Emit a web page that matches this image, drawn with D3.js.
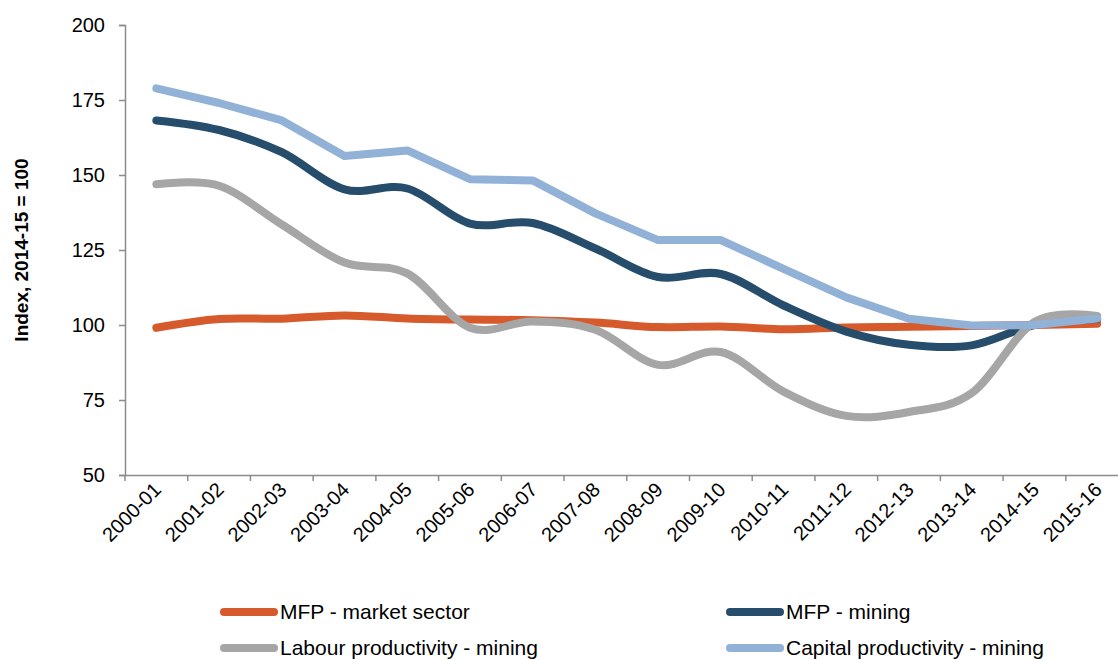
<!DOCTYPE html>
<html>
<head>
<meta charset="utf-8">
<script src="https://cdn.jsdelivr.net/npm/d3@7"></script>
<style>
  body { margin: 0; background: #fff; }
  svg { display: block; font-family: Arial, "Liberation Sans", sans-serif; }
</style>
</head>
<body>
<div class="chart"></div>
<script>
// chart data
const years = ['2000-01', '2001-02', '2002-03', '2003-04', '2004-05', '2005-06', '2006-07', '2007-08',
  '2008-09', '2009-10', '2010-11', '2011-12', '2012-13', '2013-14', '2014-15', '2015-16'];
const mfpMarket = [99.1, 102.0, 102.1, 103.2, 102.2, 101.8, 101.6, 100.8, 99.3, 99.5, 98.6, 99.2, 99.4, 99.7, 100.0, 100.4];
const mfpMining = [168.2, 165.0, 157.6, 145.2, 145.5, 133.8, 134.0, 125.5, 116.0, 117.0, 106.5, 97.8, 93.4, 93.2, 100.0, 102.0];
const labourMining = [146.9, 146.4, 133.5, 120.8, 117.2, 99.1, 101.2, 98.4, 86.7, 91.0, 77.8, 69.7, 71.0, 77.3, 101.0, 103.0];
const capitalMining = [178.9, 174.0, 168.2, 156.3, 158.2, 148.6, 148.2, 137.2, 128.3, 128.3, 118.7, 109.2, 102.1, 99.8, 100.0, 102.2];
const yTicks = [50, 75, 100, 125, 150, 175, 200];

const series = [
  { name: 'MFP - market sector', values: mfpMarket, color: '#d65a2b', smooth: true },
  { name: 'MFP - mining', values: mfpMining, color: '#264d6b', smooth: true },
  { name: 'Labour productivity - mining', values: labourMining, color: '#a6a6a6', smooth: true },
  { name: 'Capital productivity - mining', values: capitalMining, color: '#92b1d7', smooth: false }
];

const W = 1118, H = 660;
const svg = d3.select('.chart').append('svg')
  .attr('width', W)
  .attr('height', H);

const left = 125, bandW = 62.72;
const x = d3.scaleBand()
  .domain(years)
  .range([left, left + bandW * years.length]);
const y = d3.scaleLinear()
  .domain([50, 200])
  .range([475, 25]);

const axisColor = '#8c8c8c';

// y axis
const gy = svg.append('g')
  .attr('transform', `translate(${left},0)`)
  .call(d3.axisLeft(y).tickValues(yTicks).tickSize(6).tickPadding(14));
gy.select('.domain').attr('stroke', axisColor).attr('stroke-width', 1.5);
gy.selectAll('.tick line').attr('stroke', axisColor).attr('stroke-width', 1.5);
gy.selectAll('.tick text')
  .attr('font-size', 20)
  .attr('fill', '#000')
  .attr('font-family', 'Arial, "Liberation Sans", sans-serif');

// x axis
const gx = svg.append('g')
  .attr('transform', `translate(0,${y(50)})`)
  .call(d3.axisBottom(x).tickSize(0).tickPadding(0));
gx.select('.domain').attr('stroke', axisColor).attr('stroke-width', 1.5);
gx.selectAll('.tick text')
  .attr('font-size', 20)
  .attr('fill', '#000')
  .attr('font-family', 'Arial, "Liberation Sans", sans-serif')
  .attr('text-anchor', 'end')
  .attr('dy', null)
  .attr('transform', 'translate(6,16) rotate(-45)');

// tick marks sit between categories
gx.selectAll('.bound')
  .data(years)
  .enter().append('line')
  .attr('class', 'bound')
  .attr('x1', d => x(d))
  .attr('x2', d => x(d))
  .attr('y1', 0)
  .attr('y2', 6)
  .attr('stroke', axisColor)
  .attr('stroke-width', 1.5);

// y title
svg.append('text')
  .attr('transform', `translate(28,${(y(50) + y(200)) / 2}) rotate(-90)`)
  .attr('text-anchor', 'middle')
  .attr('font-size', 19)
  .attr('font-weight', 'bold')
  .text('Index, 2014-15 = 100');

// lines
const cx = d => x(d) + x.bandwidth() / 2;
series.forEach(s => {
  const line = d3.line()
    .x((v, i) => cx(years[i]))
    .y(v => y(v))
    .curve(s.smooth ? d3.curveCardinal.tension(0) : d3.curveLinear);
  svg.append('path')
    .datum(s.values)
    .attr('fill', 'none')
    .attr('stroke', s.color)
    .attr('stroke-width', 8)
    .attr('stroke-linecap', 'round')
    .attr('stroke-linejoin', 'round')
    .attr('d', line);
});

// legend
const legendPos = [[220, 612], [726, 612], [220, 648], [726, 648]];
series.forEach((s, i) => {
  const [lx, ly] = legendPos[i];
  const g = svg.append('g').attr('transform', `translate(${lx},${ly})`);
  g.append('line')
    .attr('x1', 4).attr('x2', 54)
    .attr('y1', 0).attr('y2', 0)
    .attr('stroke', s.color)
    .attr('stroke-width', 8)
    .attr('stroke-linecap', 'round');
  g.append('text')
    .attr('x', 60)
    .attr('y', 0)
    .attr('dy', '0.35em')
    .attr('font-size', 21)
    .text(s.name);
});
</script>
</body>
</html>
